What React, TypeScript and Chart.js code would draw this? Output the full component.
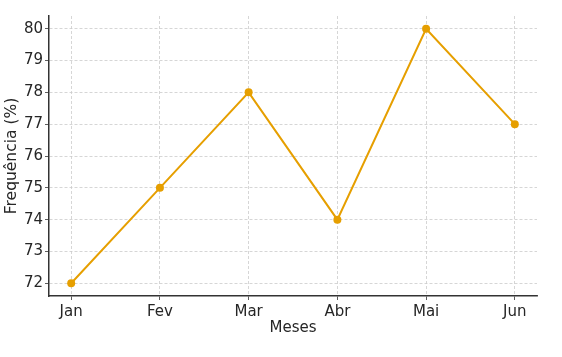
import React, { useEffect, useRef } from "react";
import { Chart, registerables } from "chart.js";

Chart.register(...registerables);

const categories = ["Jan", "Fev", "Mar", "Abr", "Mai", "Jun"];
const frequencia = [72, 75, 78, 74, 80, 77];
const yTicks = [72, 73, 74, 75, 76, 77, 78, 79, 80];

const FONT = "'DejaVu Sans', sans-serif";
const LINE = "#e69f00";

export default function App() {
  const ref = useRef<HTMLCanvasElement | null>(null);

  useEffect(() => {
    if (!ref.current) return;
    const chart = new Chart(ref.current, {
      type: "line",
      data: {
        datasets: [
          {
            data: frequencia.map((v, i) => ({ x: i, y: v })),
            borderColor: LINE,
            backgroundColor: LINE,
            borderWidth: 2,
            pointRadius: 4,
            pointHoverRadius: 4,
            pointBorderWidth: 0,
            tension: 0,
          },
        ],
      },
      options: {
        animation: false,
        responsive: false,
        events: [],
        layout: { padding: { top: 16, right: 25, left: 0, bottom: 0 } },
        plugins: { legend: { display: false }, tooltip: { enabled: false } },
        scales: {
          x: {
            type: "linear",
            min: -0.25,
            max: categories.length - 0.75,
            afterBuildTicks: (s: any) => {
              s.ticks = categories.map((_, i) => ({ value: i }));
            },
            afterFit: (s: any) => {
              s.height = 61;
            },
            ticks: {
              autoSkip: false,
              maxRotation: 0,
              padding: 3,
              color: "#262626",
              font: { family: FONT, size: 15 },
              callback: (v: any) => categories[Math.round(Number(v))] ?? "",
            },
            grid: {
              color: "#cbcbcb",
              lineWidth: 0.8,
              tickColor: "#333",
              tickLength: 4,
              drawTicks: true,
            },
            border: { display: true, color: "#333", width: 1.5, dash: [3, 2] },
            title: {
              display: true,
              text: "Meses",
              color: "#262626",
              font: { family: FONT, size: 15 },
              padding: { top: 4, bottom: 20 },
            },
          },
          y: {
            type: "linear",
            min: 71.6,
            max: 80.4,
            afterBuildTicks: (s: any) => {
              s.ticks = yTicks.map((v) => ({ value: v }));
            },
            afterFit: (s: any) => {
              s.width = 49;
            },
            ticks: {
              padding: 2,
              color: "#262626",
              font: { family: FONT, size: 15 },
              callback: (v: any) => String(v),
            },
            grid: {
              color: "#cbcbcb",
              lineWidth: 0.8,
              tickColor: "#333",
              tickLength: 4,
              drawTicks: true,
            },
            border: { display: true, color: "#333", width: 1.5, dash: [3, 2] },
            title: {
              display: true,
              text: "Frequência (%)",
              color: "#262626",
              font: { family: FONT, size: 15.5 },
              padding: { top: 3, bottom: 4 },
            },
          },
        },
      },
    });
    return () => chart.destroy();
  }, []);

  return (
    <div style={{ position: "fixed", left: 0, top: 0, width: 562, height: 357, background: "#fff" }}>
      <canvas ref={ref} width={562} height={357} />
    </div>
  );
}
